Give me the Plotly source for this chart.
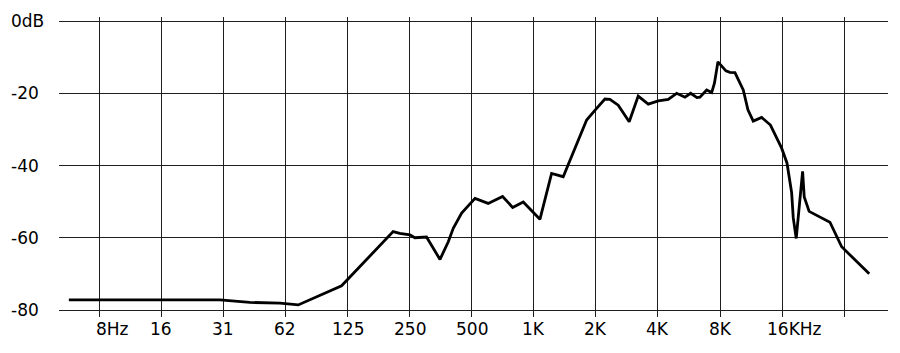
import math
import plotly.graph_objects as go

# Frequency response data (Hz, dB)
freq_hz = [5.57, 30.1, 42.0, 58.8, 72.1, 117, 208, 224, 251, 265, 302, 351, 385, 407,
           447, 519, 601, 706, 790, 889, 1071, 1220, 1389, 1583, 1804, 2017, 2213,
           2340, 2567, 2902, 3209, 3590, 4014, 4488, 4928, 5408, 5763, 6182, 6391,
           6888, 7286, 7516, 7815, 8545, 8934, 9448, 10367, 10922, 11591, 12731,
           14044, 15913, 16888, 17793, 18116, 18727, 20110, 20477, 21630, 27285,
           31100, 42312]
level_db = [-77.2, -77.2, -77.9, -78.1, -78.6, -73.3, -58.3, -58.8, -59.2, -60.0,
            -59.8, -66.0, -61.1, -57.4, -53.2, -49.1, -50.5, -48.6, -51.6, -50.1,
            -54.9, -42.2, -43.1, -35.2, -27.4, -24.2, -21.6, -21.7, -23.3, -27.9,
            -20.8, -23.0, -22.1, -21.7, -20.0, -21.1, -20.0, -21.2, -21.1, -19.1,
            -19.8, -17.2, -11.3, -13.8, -14.2, -14.3, -19.1, -24.6, -27.7, -26.7,
            -28.8, -35.2, -39.3, -47.5, -54.5, -60.2, -41.6, -48.7, -52.7, -55.7,
            -62.5, -70.0]

x_tick_vals = [1000 * 2 ** k for k in range(-7, 6)]
x_tick_labels = ["8Hz", "16", "31", "62", "125", "250", "500", "1K", "2K", "4K",
                 "8K", "16KHz", ""]
y_tick_vals = [0, -20, -40, -60, -80]
y_tick_labels = ["0dB", "-20", "-40", "-60", "-80"]

FONT = "DejaVu Sans"
TXT = "#000000"
GRID = "#1e1e1e"

fig = go.Figure()
fig.add_trace(go.Scatter(x=freq_hz, y=level_db, mode="lines",
                         line=dict(color="#000000", width=2.8),
                         hoverinfo="skip", showlegend=False))

fig.update_layout(
    width=900, height=353,
    margin=dict(l=59, r=12, t=17, b=43, pad=0),
    paper_bgcolor="white", plot_bgcolor="white",
    showlegend=False,
    xaxis=dict(type="log",
               range=[math.log10(4.99), math.log10(52170)],
               tickvals=x_tick_vals, showticklabels=False,
               ticks="outside", ticklen=6, tickcolor=GRID, tickwidth=1,
               showgrid=True, gridcolor=GRID, gridwidth=1,
               showline=True, linecolor=GRID, linewidth=1,
               zeroline=False, fixedrange=True),
    yaxis=dict(range=[-80, 1.107], tickvals=y_tick_vals, showticklabels=False,
               ticks="", showgrid=True, gridcolor=GRID, gridwidth=1,
               showline=False, zeroline=False, fixedrange=True),
)

annotations = []
for v, t in zip(y_tick_vals, y_tick_labels):
    annotations.append(dict(x=0, xref="paper", y=v, yref="y", text=t,
                            showarrow=False, xanchor="left", yanchor="middle",
                            xshift=-50, yshift=0,
                            font=dict(family=FONT, size=17, color=TXT)))
for v, t in zip(x_tick_vals, x_tick_labels):
    if not t:
        continue
    if t == "8Hz":
        anchor, shift = "left", -5
    elif t == "16KHz":
        anchor, shift = "left", -17
    else:
        anchor, shift = "center", 0
    annotations.append(dict(x=math.log10(v), xref="x", y=0, yref="paper", text=t,
                            showarrow=False, xanchor=anchor, yanchor="top",
                            xshift=shift, yshift=-7,
                            font=dict(family=FONT, size=17, color=TXT)))
fig.update_layout(annotations=annotations)

fig.write_html("out.html")
